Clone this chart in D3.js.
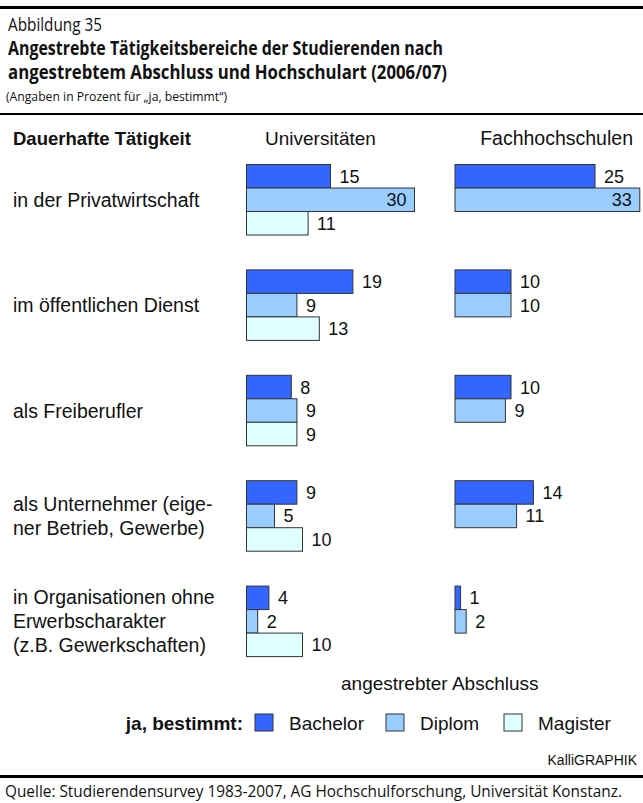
<!DOCTYPE html>
<html>
<head>
<meta charset="utf-8">
<script src="https://cdn.jsdelivr.net/npm/d3@7"></script>
<style>
body{margin:0;background:#fff;}
svg{display:block;}
.chart text{font-family:"Liberation Sans",Arial,sans-serif;fill:#111;}
.head text{font-family:"Open Sans","Noto Sans",sans-serif;fill:#111;}
</style>
</head>
<body>
<div id="chart"></div>
<script>
// data (Angaben in Prozent, "ja, bestimmt")
var categories = ["privat","oeffentlich","frei","unternehmer","organisationen"];
var category_lines = [
	["in der Privatwirtschaft"],
	["im öffentlichen Dienst"],
	["als Freiberufler"],
	["als Unternehmer (eige-","ner Betrieb, Gewerbe)"],
	["in Organisationen ohne","Erwerbscharakter","(z.B. Gewerkschaften)"]
];
var series = ["Bachelor","Diplom","Magister"];
var series_colors = ["#3366ff","#99ccff","#e0ffff"];
var uni_bachelor = [15,19,8,9,4];
var uni_diplom = [30,9,9,5,2];
var uni_magister = [11,13,9,10,10];
var fh_bachelor = [25,10,10,14,1];
var fh_diplom = [33,10,9,11,2];
var column_titles = ["Universitäten","Fachhochschulen"];

var width = 643, height = 803;

var svg = d3.select("#chart").append("svg")
	.attr("width", width)
	.attr("height", height);

// header block
var head = svg.append("g").attr("class","head");
head.append("rect").attr("x",0).attr("y",6).attr("width",width).attr("height",3).attr("fill","#000");
head.append("text").attr("x",8).attr("y",31).attr("font-size",19)
	.attr("textLength",94).attr("lengthAdjust","spacingAndGlyphs")
	.text("Abbildung 35");
head.append("text").attr("x",8).attr("y",55).attr("font-size",19).attr("font-weight","bold")
	.attr("textLength",435).attr("lengthAdjust","spacingAndGlyphs")
	.text("Angestrebte Tätigkeitsbereiche der Studierenden nach");
head.append("text").attr("x",8).attr("y",79).attr("font-size",19).attr("font-weight","bold")
	.attr("textLength",439).attr("lengthAdjust","spacingAndGlyphs")
	.text("angestrebtem Abschluss und Hochschulart (2006/07)");
head.append("text").attr("x",6).attr("y",101).attr("font-size",13.5)
	.attr("textLength",221).attr("lengthAdjust","spacingAndGlyphs")
	.text("(Angaben in Prozent für „ja, bestimmt“)");
head.append("rect").attr("x",0).attr("y",113).attr("width",width).attr("height",2).attr("fill","#000");

head.append("rect").attr("x",0).attr("y",775).attr("width",width).attr("height",3).attr("fill","#000");
head.append("text").attr("x",5).attr("y",797).attr("font-size",15.5)
	.attr("textLength",617).attr("lengthAdjust","spacingAndGlyphs")
	.text("Quelle: Studierendensurvey 1983-2007, AG Hochschulforschung, Universität Konstanz.");

var chart = svg.append("g").attr("class","chart");

// scales
var y = d3.scaleBand()
	.domain(categories)
	.range([164.5, 656.6])
	.paddingInner(0.331)
	.paddingOuter(0);
var ySub = d3.scaleBand()
	.domain(series)
	.range([0, y.bandwidth()]);
var x = d3.scaleLinear().domain([0, 35]).range([0, 196]);
var color = d3.scaleOrdinal().domain(series).range(series_colors);

var columns = [
	{x0:246.5, values:[uni_bachelor,uni_diplom,uni_magister]},
	{x0:455, values:[fh_bachelor,fh_diplom]}
];

chart.append("text").attr("x",13).attr("y",145).attr("font-size",18.5).attr("font-weight","bold")
	.text("Dauerhafte Tätigkeit");
chart.append("text").attr("x",265).attr("y",145).attr("font-size",19).text(column_titles[0]);
chart.append("text").attr("x",633).attr("y",145).attr("font-size",19.5).attr("text-anchor","end").text(column_titles[1]);

// category labels
categories.forEach(function(cat, i){
	var lines = category_lines[i];
	var mid = y(cat) + y.bandwidth()/2;
	var t = chart.append("text").attr("x",13).attr("font-size",19.5);
	lines.forEach(function(line, j){
		t.append("tspan").attr("x",13)
			.attr("y", mid + 7 - (lines.length-1)*12 + j*24)
			.text(line);
	});
});

// bars
columns.forEach(function(col){
	col.values.forEach(function(vals, s){
		var name = series[s];
		var g = chart.append("g");
		g.selectAll("rect").data(vals).enter().append("rect")
			.attr("x", col.x0)
			.attr("y", function(d,i){ return y(categories[i]) + ySub(name); })
			.attr("width", function(d){ return x(d); })
			.attr("height", ySub.bandwidth())
			.attr("fill", color(name))
			.attr("stroke", "#333")
			.attr("stroke-width", 1);
		g.selectAll("text").data(vals).enter().append("text")
			.attr("font-size", 18)
			.attr("x", function(d){ return d > 28 ? col.x0 + x(d) - 8 : col.x0 + x(d) + 9; })
			.attr("text-anchor", function(d){ return d > 28 ? "end" : "start"; })
			.attr("y", function(d,i){ return y(categories[i]) + ySub(name) + ySub.bandwidth()/2 + 6.5; })
			.text(function(d){ return d; });
	});
});

// legend
chart.append("text").attr("x",341).attr("y",690).attr("font-size",19).text("angestrebter Abschluss");
chart.append("text").attr("x",243).attr("y",730).attr("font-size",19).attr("font-weight","bold")
	.attr("text-anchor","end").text("ja, bestimmt:");
var legend_x = [255, 386, 504];
var legend = chart.selectAll("g.legend").data(series).enter().append("g")
	.attr("class","legend")
	.attr("transform", function(d,i){ return "translate(" + legend_x[i] + ",714)"; });
legend.append("rect")
	.attr("width",18).attr("height",17)
	.attr("fill", function(d){ return color(d); })
	.attr("stroke","#333");
legend.append("text").attr("x",34).attr("y",16).attr("font-size",19).text(function(d){ return d; });

chart.append("text").attr("x",637).attr("y",765).attr("font-size",14)
	.attr("text-anchor","end").text("KalliGRAPHIK");
</script>
</body>
</html>
